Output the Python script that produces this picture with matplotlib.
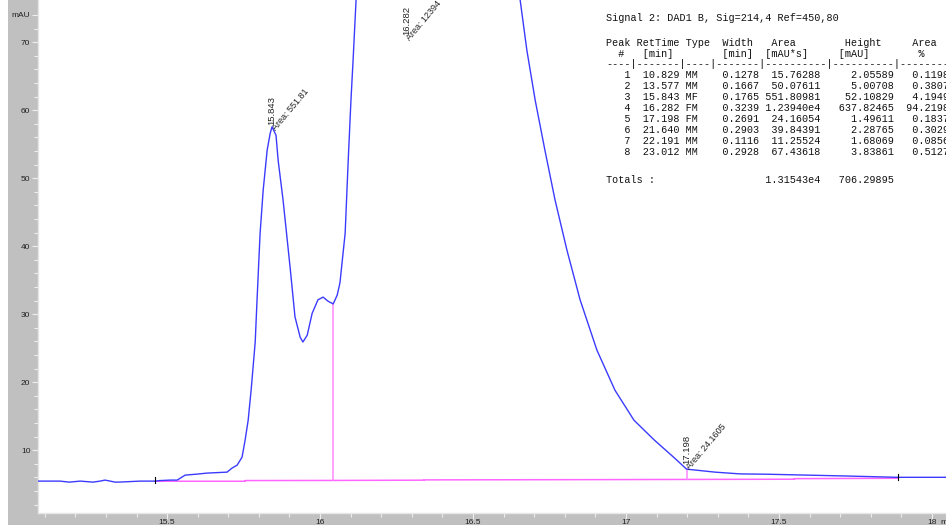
import matplotlib
matplotlib.use("Agg")
import matplotlib.pyplot as plt
from matplotlib.patches import Rectangle

# DAD1 B signal trace (time in min, absorbance in mAU)
trace_t = [15.078, 15.150, 15.180, 15.216, 15.258, 15.281, 15.297, 15.314, 15.330,
           15.346, 15.412, 15.461, 15.477, 15.510, 15.533, 15.559, 15.598, 15.631,
           15.696, 15.712, 15.729, 15.745, 15.755, 15.765, 15.775, 15.788, 15.794,
           15.804, 15.814, 15.827, 15.837, 15.843, 15.856, 15.863, 15.879, 15.902,
           15.918, 15.935, 15.944, 15.958, 15.974, 15.993, 16.010, 16.026, 16.043,
           16.056, 16.065, 16.082, 16.092, 16.101, 16.108, 16.118, 16.200, 16.282,
           16.400, 16.630, 16.654, 16.676, 16.703, 16.735, 16.768, 16.807, 16.850,
           16.905, 16.964, 17.026, 17.092, 17.157, 17.198, 17.291, 17.373, 17.464,
           17.712, 17.886, 18.046]
trace_v = [5.44, 5.44, 5.29, 5.44, 5.29, 5.44, 5.59, 5.44, 5.29,
           5.30, 5.44, 5.44, 5.52, 5.59, 5.59, 6.32, 6.47, 6.62,
           6.76, 7.35, 7.79, 8.97, 11.47, 14.4, 19.0, 25.9, 32.1,
           41.9, 48.2, 54.1, 56.6, 57.55, 56.3, 52.6, 46.8, 36.9,
           29.6, 26.6, 25.9, 26.9, 30.1, 32.1, 32.5, 31.9, 31.5,
           32.8, 34.6, 41.9, 52.6, 61.5, 67.4, 76.5, 300.0, 643.3,
           300.0, 90.0, 76.2, 68.8, 61.5, 54.1, 46.8, 39.4, 32.1,
           24.7, 18.8, 14.4, 11.5, 8.9, 7.2, 6.76, 6.5, 6.45,
           6.2, 6.0, 6.0]

# Integration baseline
base_t = [15.461, 15.755, 15.755, 16.043, 16.340, 16.340, 16.920, 17.550, 17.550, 17.889]
base_v = [5.42, 5.42, 5.52, 5.54, 5.58, 5.62, 5.66, 5.72, 5.80, 5.86]

# Peak drop lines: (time, baseline value, signal value)
drop_t = [16.043, 17.198]
drop_base = [5.54, 5.70]
drop_top = [31.5, 7.20]

# Peak labels
label_rt = ["15.843", "16.282", "17.198"]
label_area = ["Area: 551.81", "Area: 12394", "Area: 24.1605"]
label_t = [15.843, 16.282, 17.198]
label_v = [57.8, 71.0, 7.9]

# Peak table
signal_title = "Signal 2: DAD1 B, Sig=214,4 Ref=450,80"
peak_no = [1, 2, 3, 4, 5, 6, 7, 8]
peak_rt = ["10.829", "13.577", "15.843", "16.282", "17.198", "21.640", "22.191", "23.012"]
peak_type = ["MM", "MM", "MF", "FM", "FM", "MM", "MM", "MM"]
peak_width = ["0.1278", "0.1667", "0.1765", "0.3239", "0.2691", "0.2903", "0.1116", "0.2928"]
peak_area = ["15.76288", "50.07611", "551.80981", "1.23940e4", "24.16054", "39.84391",
             "11.25524", "67.43618"]
peak_height = ["2.05589", "5.00708", "52.10829", "637.82465", "1.49611", "2.28765",
               "1.68069", "3.83861"]
peak_pct = ["0.1198", "0.3807", "4.1949", "94.2198", "0.1837", "0.3029", "0.0856", "0.5127"]
total_area = "1.31543e4"
total_height = "706.29895"

W, H = 946, 525
fig = plt.figure(figsize=(W / 100, H / 100), dpi=100)
fig.patch.set_facecolor("#c0c0c0")
fig.add_artist(Rectangle((0, 0), 8 / W, 1, transform=fig.transFigure,
                         facecolor="white", edgecolor="none", zorder=-1))

ax = fig.add_axes([38 / W, 12 / H, 1 - 38 / W, 1 - 12 / H])
ax.set_facecolor("white")
ax.set_xlim(15.078, 18.046)
ax.set_ylim(0.75, 76.2)

ax.plot(trace_t, trace_v, color="#3b3bff", lw=1.0, zorder=3)
ax.plot(base_t, base_v, color="#ff66ff", lw=1.1, zorder=2)
for t, b, top in zip(drop_t, drop_base, drop_top):
    ax.plot([t, t], [b, top], color="#ff88ff", lw=1.1, zorder=2)

# start / end marks of the integration baseline
for t, v in [(base_t[0], base_v[0]), (base_t[-1], base_v[-1])]:
    ax.plot([t, t], [v - 0.2, v + 0.6], color="black", lw=0.8, zorder=4)

for rt, area, t, v in zip(label_rt, label_area, label_t, label_v):
    ax.text(t, v, rt, rotation=90, ha="left", va="center", fontsize=6.8,
            family="Liberation Sans", color="#222222", rotation_mode="anchor", zorder=5)
    ax.text(t + 0.006, v - 0.6, area, rotation=50, ha="left", va="center", fontsize=6.5,
            family="Liberation Sans", color="#222222", rotation_mode="anchor", zorder=5)

# axes styling
for side in ["top", "right"]:
    ax.spines[side].set_visible(False)
for side in ["left", "bottom"]:
    ax.spines[side].set_color("#e6e6e6")
    ax.spines[side].set_linewidth(1.0)

xt = [15.5, 16.0, 16.5, 17.0, 17.5, 18.0]
xt_labels = ["15.5", "16", "16.5", "17", "17.5", "18"]
ax.set_xticks(xt)
ax.set_xticklabels(xt_labels)
ax.set_xticks([15.1 + 0.1 * i for i in range(30)], minor=True)
yt = [10, 20, 30, 40, 50, 60, 70, 74]
yt_labels = ["10", "20", "30", "40", "50", "60", "70", "mAU"]
ax.set_yticks(yt)
ax.set_yticks(list(range(2, 76, 2)), minor=True)
ax.set_yticklabels(yt_labels)
ax.tick_params(which="both", colors="#eeeeee", labelcolor="#222222", labelsize=6,
               direction="out")
ax.tick_params(which="major", length=4, width=0.8, pad=1.5)
ax.tick_params(axis="x", which="major", pad=0.5)
ax.tick_params(which="minor", length=3, width=0.8)
for lbl in ax.get_xticklabels() + ax.get_yticklabels():
    lbl.set_family("Liberation Sans")
ax.annotate("min", xy=(18.0, 0), xycoords=("data", "axes fraction"),
            xytext=(6, -4.5), textcoords="offset points", ha="left", va="top",
            fontsize=6, family="Liberation Sans", color="#222222", annotation_clip=False)

# peak table
x0 = 606
lines = [(18, signal_title),
         (43, "Peak RetTime Type  Width   Area        Height     Area"),
         (54, "  #   [min]        [min]  [mAU*s]     [mAU]        %"),
         (64, "----|-------|----|-------|----------|----------|--------|")]
for i in range(len(peak_no)):
    row = (f"{peak_no[i]:4d}  {peak_rt[i]} {peak_type[i]:<4s}  {peak_width[i]}"
           f"{peak_area[i]:>10s}{peak_height[i]:>12s}{peak_pct[i]:>9s}")
    lines.append((75 + 11 * i, row))
lines.append((180, "Totals :" + " " * 17 + f"{total_area:>10s}{total_height:>12s}"))
for y, s in lines:
    fig.text(x0 / W, 1 - y / H, s, family="Liberation Mono", fontsize=7.3,
             color="#111111", va="center", ha="left")

fig.savefig("out.png", dpi=100, facecolor=fig.get_facecolor())
